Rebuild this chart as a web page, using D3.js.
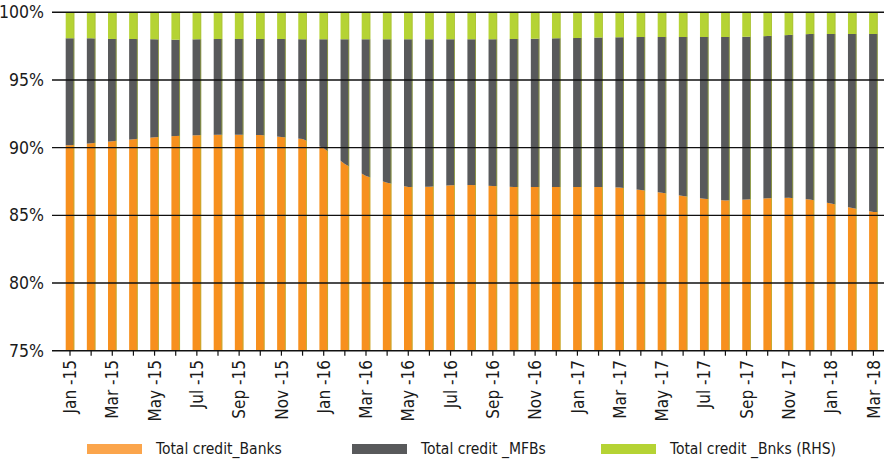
<!DOCTYPE html>
<html>
<head>
<meta charset="utf-8">
<script src="https://cdn.jsdelivr.net/npm/d3@7/dist/d3.min.js"></script>
<style>
  html, body { margin: 0; padding: 0; background: #ffffff; }
  svg { display: block; }
  text { font-family: "Liberation Sans Narrow", "DejaVu Sans Condensed", "Open Sans", sans-serif; fill: #1a1a1a; }
</style>
</head>
<body>
<svg id="chart" width="884" height="462"></svg>
<script>
// Monthly credit shares, Jan 2015 - Mar 2018 (percent of total)
const months = [
  "Jan -15","Feb -15","Mar -15","Apr -15","May -15","Jun -15","Jul -15","Aug -15","Sep -15","Oct -15","Nov -15","Dec -15",
  "Jan -16","Feb -16","Mar -16","Apr -16","May -16","Jun -16","Jul -16","Aug -16","Sep -16","Oct -16","Nov -16","Dec -16",
  "Jan -17","Feb -17","Mar -17","Apr -17","May -17","Jun -17","Jul -17","Aug -17","Sep -17","Oct -17","Nov -17","Dec -17",
  "Jan -18","Feb -18","Mar -18"
];
const banks = [
  90.17, 90.32, 90.47, 90.62, 90.77, 90.86, 90.91, 90.96, 90.96, 90.93, 90.79, 90.64,
  89.95, 88.80, 87.90, 87.40, 87.10, 87.12, 87.22, 87.24, 87.17, 87.10, 87.10, 87.10,
  87.10, 87.10, 87.05, 86.87, 86.67, 86.43, 86.23, 86.10, 86.17, 86.27, 86.30, 86.17,
  85.87, 85.55, 85.25
];
const mfbs = [
  7.91, 7.76, 7.56, 7.41, 7.23, 7.11, 7.09, 7.07, 7.07, 7.10, 7.24, 7.36,
  8.05, 9.20, 10.10, 10.60, 10.90, 10.88, 10.78, 10.76, 10.83, 10.93, 10.95, 10.98,
  11.00, 11.03, 11.10, 11.30, 11.51, 11.75, 11.95, 12.08, 12.03, 11.98, 12.02, 12.23,
  12.53, 12.85, 13.15
];
const rhs = [
  1.92, 1.92, 1.97, 1.97, 2.00, 2.03, 2.00, 1.97, 1.97, 1.97, 1.97, 2.00,
  2.00, 2.00, 2.00, 2.00, 2.00, 2.00, 2.00, 2.00, 2.00, 1.97, 1.95, 1.92,
  1.90, 1.87, 1.85, 1.83, 1.82, 1.82, 1.82, 1.82, 1.80, 1.75, 1.68, 1.60,
  1.60, 1.60, 1.60
];
const seriesNames = ["Total credit_Banks", "Total credit _MFBs", "Total credit _Bnks (RHS)"];
const seriesKeys = ["banks", "mfbs", "rhs"];
const fillColors = ["#f7901e", "#58595b", "#b5d334"];
const legendColors = ["#fba54c", "#58595b", "#b5d334"];
const yTicks = [75, 80, 85, 90, 95, 100];

const rows = months.map((m, i) => ({ month: m, banks: banks[i], mfbs: mfbs[i], rhs: rhs[i] }));

const svg = d3.select("#chart");
const axisLeft = 52, axisRight = 884;
const x = d3.scalePoint().domain(months).range([70, 873.4]);
const y = d3.scaleLinear().domain([75, 100]).range([350.7, 12.3]);
const barW = 8.6;

// Columns: stacked layers drawn as areas, then cut into one column per month
const defs = svg.append("defs");
const clip = defs.append("clipPath").attr("id", "cols");
clip.selectAll("rect").data(months).join("rect")
  .attr("x", d => x(d) - barW / 2)
  .attr("y", y(100))
  .attr("width", barW)
  .attr("height", y(75) - y(100));

const layers = d3.stack().keys(seriesKeys)(rows);
const area = d3.area()
  .x(d => x(d.data.month) + d.xo)
  .y0(d => y(Math.max(75, d[0])))
  .y1(d => y(Math.min(100, d[1])));

const g = svg.append("g").attr("clip-path", "url(#cols)");
layers.forEach((layer, k) => {
  // repeat the end values half a column outward so the outer columns are filled
  const first = layer[0], last = layer[layer.length - 1];
  const pts = [
    Object.assign([first[0], first[1]], { data: first.data, xo: -barW }),
    ...layer.map(d => Object.assign([d[0], d[1]], { data: d.data, xo: 0 })),
    Object.assign([last[0], last[1]], { data: last.data, xo: barW })
  ];
  g.append("path").attr("fill", fillColors[k]).attr("d", area(pts));
});

// thin green edge on the right side of each column
svg.append("g").selectAll("line").data(months).join("line")
  .attr("x1", d => x(d) + barW / 2 - 0.4)
  .attr("x2", d => x(d) + barW / 2 - 0.4)
  .attr("y1", y(100)).attr("y2", y(75))
  .attr("stroke", "#a9bd3a").attr("stroke-width", 0.8).attr("opacity", 0.8);

// horizontal gridlines
svg.append("g").selectAll("line").data(yTicks).join("line")
  .attr("x1", axisLeft).attr("x2", axisRight)
  .attr("y1", d => y(d)).attr("y2", d => y(d))
  .attr("stroke", "#111").attr("stroke-width", 1.4);

// y labels
svg.append("g").selectAll("text").data(yTicks).join("text")
  .attr("x", 44).attr("y", d => y(d))
  .attr("dy", "0.35em")
  .attr("text-anchor", "end")
  .attr("font-size", 17.5)
  .text(d => d + "%");

// x tick marks
svg.append("g").selectAll("line").data(months).join("line")
  .attr("x1", d => x(d)).attr("x2", d => x(d))
  .attr("y1", y(75)).attr("y2", y(75) + 5)
  .attr("stroke", "#111").attr("stroke-width", 1.2);

// x labels, every second month
svg.append("g").selectAll("text").data(months.filter((m, i) => i % 2 === 0)).join("text")
  .attr("transform", d => `translate(${x(d)},360) rotate(-90)`)
  .attr("dy", "0.36em")
  .attr("text-anchor", "end")
  .attr("font-size", 17)
  .text(d => d);

// legend
const legendX = [87, 352, 601];
const lg = svg.append("g").selectAll("g").data(seriesNames).join("g")
  .attr("transform", (d, i) => `translate(${legendX[i]},444)`);
lg.append("rect").attr("width", 55).attr("height", 10).attr("fill", (d, i) => legendColors[i]);
lg.append("text").attr("x", 69).attr("y", 5).attr("dy", "0.35em")
  .attr("font-size", 15.5).text(d => d);
</script>
</body>
</html>
